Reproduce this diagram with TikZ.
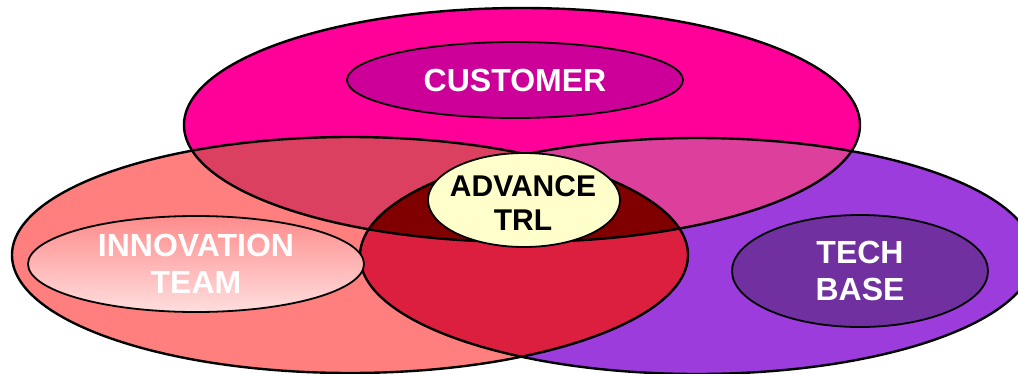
\documentclass[tikz,border=0pt]{standalone}
\usepackage{fontspec}
\setmainfont{Liberation Sans}
\usetikzlibrary{shapes.geometric}

\definecolor{custfill}{HTML}{FF0099}
\definecolor{custcore}{HTML}{CC0099}
\definecolor{teamfill}{HTML}{FF7F7F}
\definecolor{teamtop}{HTML}{FF8C8C}
\definecolor{teambot}{HTML}{FFDEDE}
\definecolor{techfill}{HTML}{9C3CDC}
\definecolor{techcore}{HTML}{7030A0}
\definecolor{mixleft}{HTML}{DC4060}
\definecolor{mixright}{HTML}{DC409C}
\definecolor{lensfill}{HTML}{DC1F3F}
\definecolor{corefill}{HTML}{800000}
\definecolor{trlfill}{HTML}{FFFFCC}

\def\custset{(522,125) ellipse [x radius=338, y radius=117]}
\def\teamset{(350,255) ellipse [x radius=338, y radius=118]}
\def\techset{(697,256) ellipse [x radius=337, y radius=118]}

\begin{document}
\begin{tikzpicture}[x=1pt, y=-1pt,
        ring/.style={draw=black, line width=2.4pt},
        inner/.style={draw=black, line width=1.8pt},
        lbl/.style={inner sep=0pt, align=center, text=white, font=\bfseries\fontsize{32}{37}\selectfont}
    ]
    \useasboundingbox (0,0) rectangle (1018,373);
    \clip (0,0) rectangle (1018,373);

    % the three sets
    \fill[custfill] \custset;
    \fill[teamfill] \teamset;
    \fill[techfill] \techset;
    \begin{scope}
        \clip \custset;
        \fill[mixleft] \teamset;
        \fill[mixright] \techset;
    \end{scope}
    \begin{scope}
        \clip \teamset;
        \fill[lensfill] \techset;
        \clip \techset;
        \fill[corefill] \custset;
    \end{scope}
    \draw[ring] \custset;
    \draw[ring] \teamset;
    \draw[ring] \techset;

    % inner ellipses
    \path[inner, fill=custcore] (515,80) ellipse [x radius=168, y radius=38];
    \path[inner, top color=teamtop, bottom color=teambot] (196,264) ellipse [x radius=168, y radius=48];
    \path[inner, fill=techcore] (860,271) ellipse [x radius=128, y radius=56];
    \path[inner, fill=trlfill] (524,200) ellipse [x radius=96, y radius=47];

    \node[lbl] (customer) at (515,80) {CUSTOMER};
    \node[lbl] (team) at (196,264) {INNOVATION\\TEAM};
    \node[lbl] (tech) at (860,271) {TECH\\BASE};
    \node[lbl, text=black, font=\bfseries\fontsize{30}{34}\selectfont] (trl) at (523,203) {ADVANCE\\TRL};
\end{tikzpicture}
\end{document}
